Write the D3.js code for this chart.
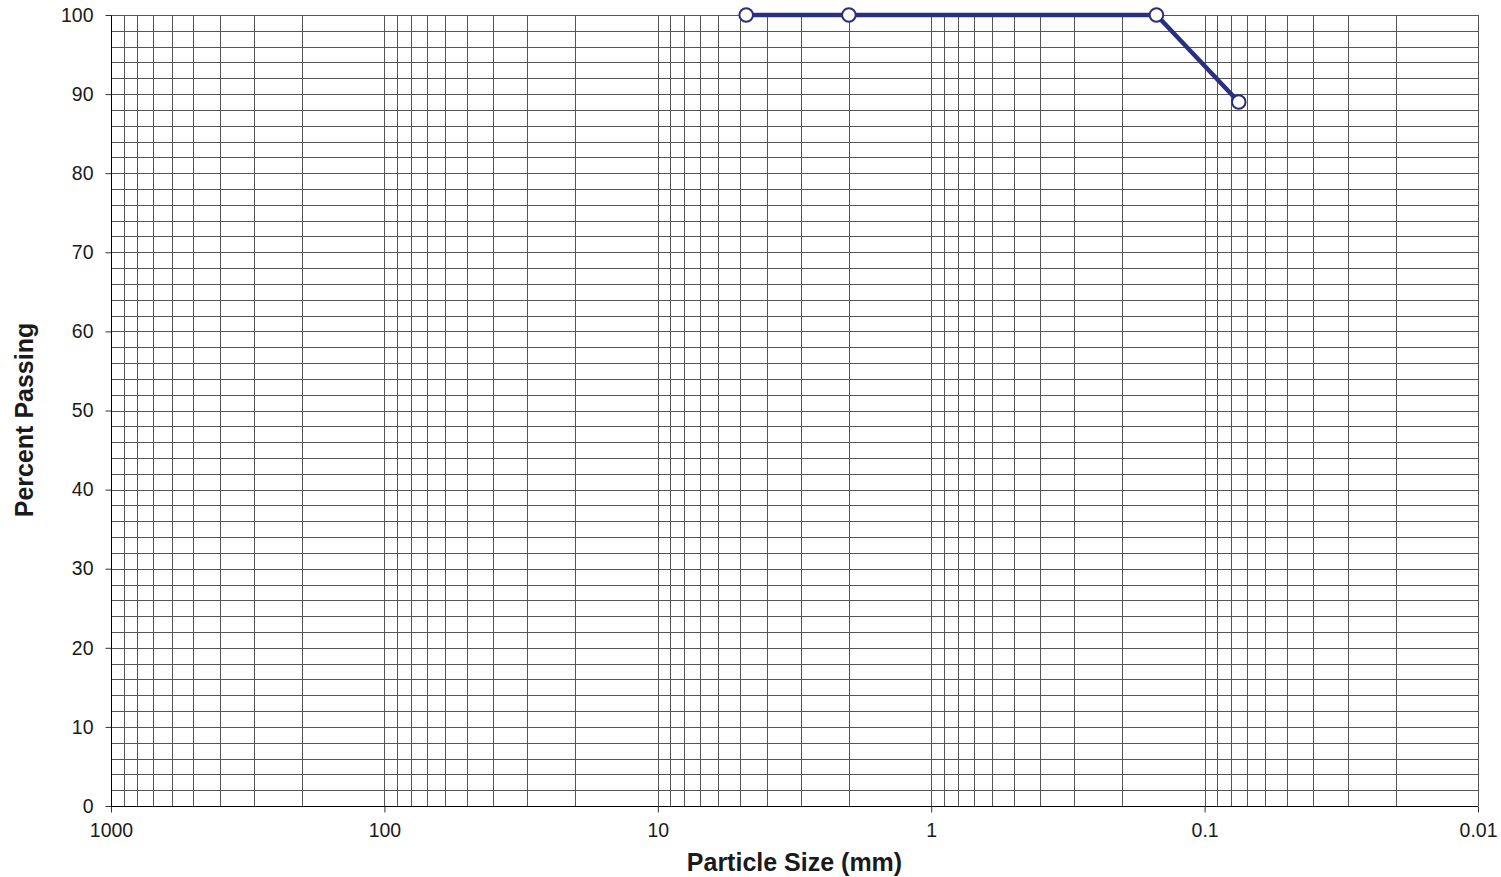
<!DOCTYPE html>
<html>
<head>
<meta charset="utf-8">
<script src="https://cdn.jsdelivr.net/npm/d3@7"></script>
<style>
  body { margin: 0; background: #fff; }
  svg { display: block; }
  text { font-family: "Liberation Sans", Arial, sans-serif; fill: #1a1a1a; }
</style>
</head>
<body>
<svg id="chart" width="1501" height="877"></svg>
<script>
// ---- data ----
const sizes = [4.75, 2.0, 0.15, 0.075];        // particle size (mm)
const passing = [100, 100, 100, 89];           // percent passing
const xTickValues = [1000, 100, 10, 1, 0.1, 0.01];
const xTickLabels = ["1000", "100", "10", "1", "0.1", "0.01"];
const yTickValues = [0, 10, 20, 30, 40, 50, 60, 70, 80, 90, 100];
const yTickLabels = ["0", "10", "20", "30", "40", "50", "60", "70", "80", "90", "100"];
const xTitle = "Particle Size (mm)";
const yTitle = "Percent Passing";

(function () {
// ---- layout ----
const svg = d3.select("#chart");
const pL = 111, pR = 1478, pT = 15, pB = 806;
const x = d3.scaleLog().domain([1000, 0.01]).range([pL, pR]);
const y = d3.scaleLinear().domain([0, 100]).range([pB, pT]);

// ---- grid ----
const vGrid = [];
for (let e = -2; e < 3; e++) {
  for (let k = 1; k <= 9; k++) vGrid.push(k * Math.pow(10, e));
}
vGrid.push(1000);
const hGrid = d3.range(0, 101, 2);

const grid = svg.append("g").attr("stroke", "#555").attr("stroke-width", 1);
grid.selectAll("line.v").data(vGrid).join("line")
  .attr("class", "v")
  .attr("x1", d => Math.round(x(d)) + 0.5).attr("x2", d => Math.round(x(d)) + 0.5)
  .attr("y1", pT).attr("y2", pB);
grid.selectAll("line.h").data(hGrid).join("line")
  .attr("class", "h")
  .attr("y1", d => Math.round(y(d)) + 0.5).attr("y2", d => Math.round(y(d)) + 0.5)
  .attr("x1", pL).attr("x2", pR);

// ---- axes ----
const yAxis = d3.axisLeft(y).tickValues(yTickValues)
  .tickFormat((d, i) => yTickLabels[i]).tickSize(6).tickPadding(12).tickSizeOuter(0);
const gy = svg.append("g").attr("transform", `translate(${pL + 0.5},0)`).call(yAxis);
gy.select(".domain").attr("stroke", "#000").attr("d", `M0,${pT}V${pB + 0.5}`);
gy.selectAll(".tick line").attr("stroke", "#333");
gy.selectAll(".tick text").attr("font-size", 19.5).style("font-family", "Liberation Sans, Arial, sans-serif").attr("fill", "#1a1a1a");

const xAxis = d3.axisBottom(x).tickValues(xTickValues)
  .tickFormat((d, i) => xTickLabels[i]).tickSize(6).tickPadding(11).tickSizeOuter(0);
const gx = svg.append("g").attr("transform", `translate(0,${pB + 0.5})`).call(xAxis);
gx.select(".domain").attr("stroke", "#000").attr("d", `M${pL},0H${pR}`);
gx.selectAll(".tick line").attr("stroke", "#333");
gx.selectAll(".tick text").attr("font-size", 19.5).style("font-family", "Liberation Sans, Arial, sans-serif").attr("fill", "#1a1a1a");

// ---- titles ----
svg.append("text").attr("x", (pL + pR) / 2).attr("y", 871)
  .attr("text-anchor", "middle").attr("font-size", 25).attr("font-weight", "bold")
  .text(xTitle);
svg.append("text").attr("transform", `translate(33,420) rotate(-90)`)
  .attr("text-anchor", "middle").attr("font-size", 25).attr("font-weight", "bold")
  .text(yTitle);

// ---- series ----
const pts = sizes.map((s, i) => ({ s, p: passing[i] }));
const navy = "#2b2f7f";
svg.append("path").datum(pts)
  .attr("fill", "none").attr("stroke", navy).attr("stroke-width", 4.5)
  .attr("stroke-linejoin", "round")
  .attr("d", d3.line().x(d => x(d.s)).y(d => y(d.p)));
svg.selectAll("circle.pt").data(pts).join("circle")
  .attr("class", "pt")
  .attr("cx", d => x(d.s)).attr("cy", d => y(d.p)).attr("r", 6.8)
  .attr("fill", "#fff").attr("stroke", navy).attr("stroke-width", 2);
})();
</script>
</body>
</html>
